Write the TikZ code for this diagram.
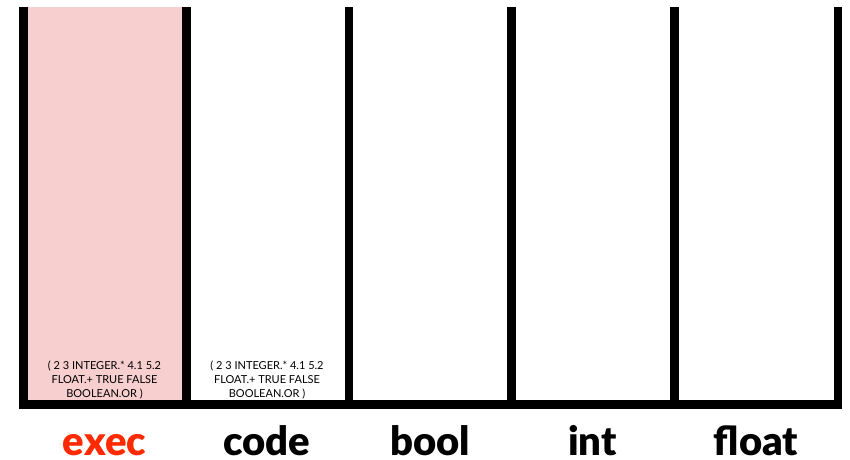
\documentclass[tikz,border=0pt]{standalone}
\usepackage{fontspec}
\setmainfont{Lato}
\newfontfamily\heavyfont{Lato Black}
\definecolor{pinkfill}{HTML}{F8CFCF}
\definecolor{execred}{HTML}{FF2A00}
\begin{document}
\begin{tikzpicture}[x=1pt,y=1pt,
  wall/.style={fill=black,draw=none},
  stacklabel/.style={anchor=base,inner sep=0pt,font=\fontsize{40}{40}\selectfont\heavyfont},
  contents/.style={align=center,font=\fontsize{11}{14}\selectfont,inner sep=0pt,anchor=base}]
\useasboundingbox (0,0) rectangle (850,459);
% pink exec column
\fill[pinkfill] (27,59) rectangle (182,452);
% walls
\foreach \x in {19,182,344.5,507,670,833.5}{
  \fill[wall] (\x,50) rectangle ++(8.5,402);
}
\fill[wall] (19,50) rectangle (842,59);
% contents
\node[contents] (execstack) at (104.5,62) {( 2 3 INTEGER.* 4.1 5.2\\FLOAT.+ TRUE FALSE\\BOOLEAN.OR )};
\node[contents] (codestack) at (267,62) {( 2 3 INTEGER.* 4.1 5.2\\FLOAT.+ TRUE FALSE\\BOOLEAN.OR )};
% labels
\node[stacklabel,text=execred] (exec) at (104.5,4) {exec};
\node[stacklabel] (code) at (267,4) {code};
\node[stacklabel] (bool) at (430,4) {bool};
\node[stacklabel] (int) at (592.5,4) {int};
\node[stacklabel] (float) at (756,4) {float};
\end{tikzpicture}
\end{document}
